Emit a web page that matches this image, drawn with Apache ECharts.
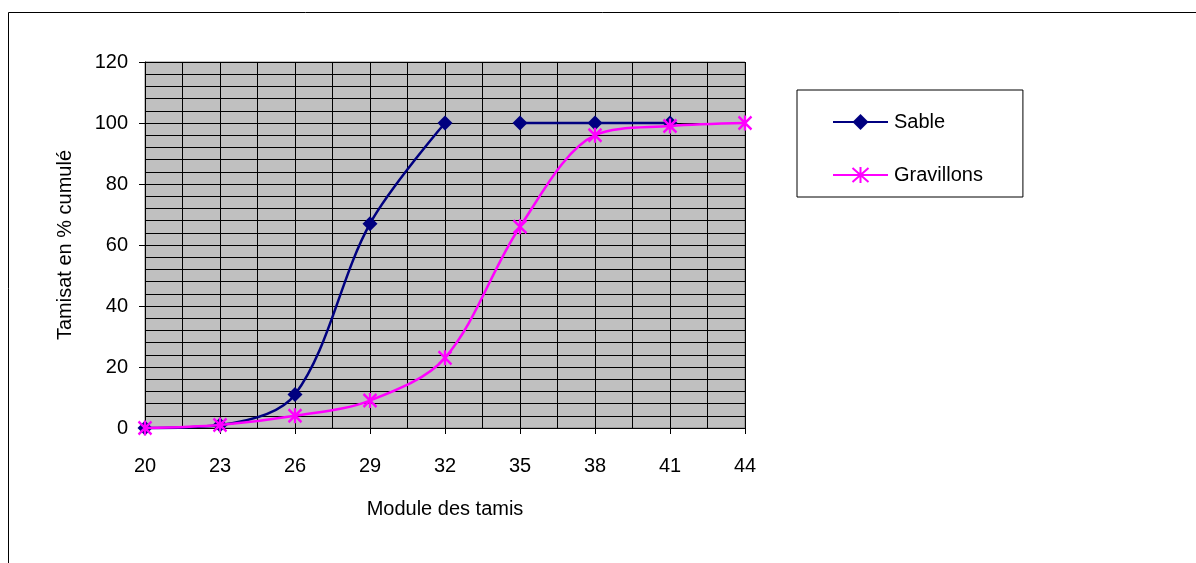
<!DOCTYPE html>
<html>
<head>
<meta charset="utf-8">
<script src="https://cdn.jsdelivr.net/npm/echarts@6/dist/echarts.min.js"></script>
<style>
  html, body { margin: 0; padding: 0; background: #ffffff; }
  #chart { width: 1196px; height: 563px; }
</style>
</head>
<body>
<div id="chart"></div>
<script>
// Sieve modules (x) and cumulative passing percentages (y)
const modules = [20, 23, 26, 29, 32, 35, 38, 41, 44];
const sable = [0, 1, 11, 67, 100, 100, 100, 100];
const gravillons = [0, 1, 4, 9, 23, 66, 96, 99, 100];
// The sand curve is not joined between its 5th and 6th points
const sableBreakAfter = 4;

const yTicks = [0, 20, 40, 60, 80, 100, 120];

const FONT = 'Liberation Sans, Arial, sans-serif';
const SABLE_COLOR = '#000080';
const GRAV_COLOR = '#FF00FF';
const asterisk = 'path://M0,0L12,14M12,0L0,14M6,-1L6,15';
const SMOOTH = 0.33;

const pairs = (vals) => vals.map((v, i) => [modules[i], v]);
const sablePairs = pairs(sable);
const sableHead = sablePairs.slice(0, sableBreakAfter + 1);
const sableTail = sablePairs.slice(sableBreakAfter + 1);

const sableStyle = {
  type: 'line',
  name: 'Sable',
  smooth: SMOOTH,
  clip: false,
  symbol: 'diamond',
  symbolSize: 15,
  showAllSymbol: true,
  lineStyle: { color: SABLE_COLOR, width: 2.5 },
  itemStyle: { color: SABLE_COLOR, borderWidth: 0 },
  emphasis: { disabled: true },
  z: 2
};

const chart = echarts.init(document.getElementById('chart'), null, { renderer: 'canvas' });

chart.setOption({
  animation: false,
  backgroundColor: '#ffffff',
  textStyle: { fontFamily: FONT },
  graphic: [{
    type: 'rect',
    shape: { x: 8.5, y: 12.5, width: 1300, height: 700 },
    style: { fill: 'none', stroke: '#000000', lineWidth: 1 },
    silent: true,
    z: -10
  }],
  grid: {
    left: 145, right: 451, top: 62, bottom: 135,
    show: true,
    backgroundColor: '#C0C0C0',
    borderColor: '#808080',
    borderWidth: 1
  },
  legend: {
    left: 797, top: 90,
    orient: 'vertical',
    padding: [22, 40, 12, 35],
    itemGap: 33,
    itemWidth: 55,
    itemHeight: 20,
    borderColor: '#000000',
    borderWidth: 1,
    backgroundColor: '#ffffff',
    textStyle: { fontFamily: FONT, fontSize: 20, color: '#000000', lineHeight: 20, padding: [0, 0, 0, 1] },
    data: ['Sable', 'Gravillons']
  },
  xAxis: {
    type: 'value',
    min: modules[0],
    max: modules[modules.length - 1],
    interval: 3,
    name: 'Module des tamis',
    nameLocation: 'middle',
    nameGap: 71,
    nameTextStyle: { fontFamily: FONT, fontSize: 20, color: '#000000' },
    axisLine: { show: true, onZero: false, lineStyle: { color: '#000000', width: 1 } },
    axisTick: { show: true, length: 6, lineStyle: { color: '#000000' } },
    axisLabel: { fontFamily: FONT, fontSize: 20, color: '#000000', margin: 28 },
    splitLine: { show: true, lineStyle: { color: '#000000', width: 1 } },
    minorTick: { show: false, splitNumber: 2 },
    minorSplitLine: { show: true, lineStyle: { color: '#000000', width: 1 } }
  },
  yAxis: {
    type: 'value',
    min: yTicks[0],
    max: yTicks[yTicks.length - 1],
    interval: 20,
    name: 'Tamisat en % cumulé',
    nameLocation: 'middle',
    nameGap: 70,
    nameTextStyle: { fontFamily: FONT, fontSize: 20, color: '#000000' },
    axisLine: { show: true, lineStyle: { color: '#000000', width: 1 } },
    axisTick: { show: true, length: 6, lineStyle: { color: '#000000' } },
    axisLabel: { fontFamily: FONT, fontSize: 20, color: '#000000', margin: 17 },
    splitLine: { show: true, lineStyle: { color: '#000000', width: 1 } },
    minorTick: { show: false, splitNumber: 5 },
    minorSplitLine: { show: true, lineStyle: { color: '#000000', width: 1 } }
  },
  series: [
    Object.assign({}, sableStyle, { data: sableHead }),
    Object.assign({}, sableStyle, { data: sableTail }),
    {
      type: 'line',
      name: 'Gravillons',
      smooth: SMOOTH,
      clip: false,
      symbol: asterisk,
      symbolSize: [13, 15],
      showAllSymbol: true,
      lineStyle: { color: GRAV_COLOR, width: 2.5 },
      itemStyle: { color: GRAV_COLOR, borderColor: GRAV_COLOR, borderWidth: 2.5 },
      emphasis: { disabled: true },
      z: 3,
      data: pairs(gravillons)
    }
  ]
});
</script>
</body>
</html>
